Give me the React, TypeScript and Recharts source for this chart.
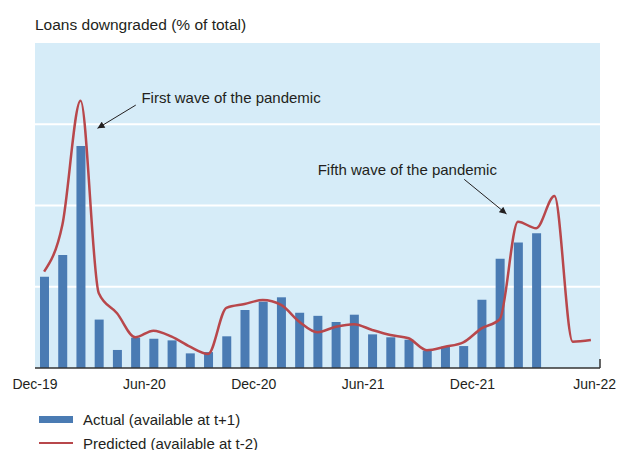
import { ComposedChart, Bar, Line, XAxis, YAxis, CartesianGrid, ReferenceLine, ReferenceDot } from "recharts"

// monthly buckets, Dec-19 .. Jun-22
const months = [
  "Dec-19", "Jan-20", "Feb-20", "Mar-20", "Apr-20", "May-20", "Jun-20", "Jul-20", "Aug-20", "Sep-20", "Oct-20",
  "Nov-20", "Dec-20", "Jan-21", "Feb-21", "Mar-21", "Apr-21", "May-21", "Jun-21", "Jul-21", "Aug-21", "Sep-21",
  "Oct-21", "Nov-21", "Dec-21", "Jan-22", "Feb-22", "Mar-22", "Apr-22", "May-22", "Jun-22",
]

// Actual (available at t+1), % of total
const actual = [
  5.62, 6.95, 13.66, 2.98, 1.11, 1.87, 1.8, 1.7, 0.9, 0.98, 1.95, 3.57, 4.08, 4.35, 3.4, 3.21, 2.83, 3.28, 2.07,
  1.89, 1.74, 1.07, 1.31, 1.35, 4.2, 6.73, 7.73, 8.29,
]

// Predicted (available at t-2), % of total
const predicted = [
  5.93, 8.8, 16.45, 4.6, 3.37, 1.89, 2.3, 1.93, 1.31, 0.86, 3.7, 3.94, 4.18, 3.88, 2.85, 2.2, 2.54, 2.7, 2.34,
  2.03, 1.83, 1.1, 1.31, 1.58, 2.44, 3.0, 9.0, 8.6, 10.58, 1.62, 1.72,
]

const tickValues = [-0.5, 5.5, 11.5, 17.5, 23.5, 30.5]
const tickLabels = ["Dec-19", "Jun-20", "Dec-20", "Jun-21", "Dec-21", "Jun-22"]
const yTicks = [0, 5, 10, 15, 20]
const gridValues = [5, 10, 15]

const FONT = '"Liberation Sans", Arial, Helvetica, sans-serif'
const INK = "#231f20"
const BAR = "#4a7bb3"
const LINE = "#b8474b"
const BG = "#d6ecf8"

const data = months.map((m, i) => ({
  idx: i,
  month: m,
  actual: i < actual.length ? actual[i] : null,
  predicted: predicted[i],
}))

function XTick(props: any) {
  const { x, y, payload } = props
  const pos = tickValues.indexOf(payload.value)
  const last = pos === tickValues.length - 1
  return (
    <text
      x={last ? x + 16 : x}
      y={y + 21}
      textAnchor={last ? "end" : "middle"}
      fontSize={14}
      fontFamily={FONT}
      fill={INK}
    >
      {tickLabels[pos]}
    </text>
  )
}

const noteLabel = (text: string) => ({
  value: text,
  position: "right" as const,
  offset: 0,
  fill: INK,
  fontSize: 15,
  fontFamily: FONT,
})

export default function App() {
  return (
    <div style={{ position: "relative", width: 617, height: 450, fontFamily: FONT, color: INK }}>
      <style>{"body { margin: 0; }"}</style>
      <svg style={{ position: "absolute", width: 0, height: 0 }}>
        <defs>
          <marker
            id="arrowHead"
            viewBox="0 0 10 10"
            refX="10"
            refY="5"
            markerWidth="8"
            markerHeight="7"
            markerUnits="userSpaceOnUse"
            orient="auto"
          >
            <path d="M0,0 L10,5 L0,10 z" fill={INK} />
          </marker>
        </defs>
      </svg>

      <div style={{ position: "absolute", left: 35, top: 15, fontSize: 15.5, lineHeight: "20px", whiteSpace: "nowrap" }}>
        Loans downgraded (% of total)
      </div>

      <ComposedChart width={617} height={450} data={data} margin={{ top: 43, right: 17, bottom: 52, left: 35 }}>
        <CartesianGrid
          vertical={false}
          stroke="#ffffff"
          strokeWidth={2}
          fill={BG}
          fillOpacity={1}
          horizontalValues={gridValues}
        />
        <XAxis
          dataKey="idx"
          type="number"
          domain={[-0.5, 30.5]}
          ticks={tickValues}
          interval={0}
          height={30}
          tickSize={0}
          tickMargin={0}
          tickLine={false}
          axisLine={{ stroke: "#333333", strokeWidth: 1.5 }}
          tick={<XTick />}
        />
        <YAxis
          domain={[0, 20]}
          ticks={yTicks}
          width={0}
          tick={() => <g />}
          tickLine={false}
          axisLine={{ stroke: "#333333", strokeWidth: 1.5 }}
        />
        <Bar dataKey="actual" fill={BAR} barSize={9} isAnimationActive={false} />
        <Line
          dataKey="predicted"
          type="monotone"
          stroke={LINE}
          strokeWidth={2.5}
          dot={false}
          activeDot={false}
          isAnimationActive={false}
        />
        <ReferenceLine segment={[{ x: 30.5, y: 0 }, { x: 30.5, y: 0.55 }]} stroke="#333333" strokeWidth={1.5} />
        <ReferenceLine
          segment={[{ x: 5.03, y: 16.18 }, { x: 2.93, y: 14.75 }]}
          stroke={INK}
          strokeWidth={1}
          markerEnd="url(#arrowHead)"
        />
        <ReferenceLine
          segment={[{ x: 23.05, y: 11.61 }, { x: 25.37, y: 9.48 }]}
          stroke={INK}
          strokeWidth={1}
          markerEnd="url(#arrowHead)"
        />
        <ReferenceDot x={5.34} y={16.62} r={0} stroke="none" fill="none" label={noteLabel("First wave of the pandemic")} />
        <ReferenceDot x={15.01} y={12.18} r={0} stroke="none" fill="none" label={noteLabel("Fifth wave of the pandemic")} />
      </ComposedChart>

      <div style={{ position: "absolute", left: 39, top: 407, fontSize: 15 }}>
        <div style={{ display: "flex", alignItems: "center", height: 24, whiteSpace: "nowrap" }}>
          <span style={{ display: "inline-block", width: 34, height: 7, background: BAR, marginRight: 10 }} />
          Actual (available at t+1)
        </div>
        <div style={{ display: "flex", alignItems: "center", height: 24, whiteSpace: "nowrap" }}>
          <span style={{ display: "inline-block", width: 34, height: 2.5, background: LINE, marginRight: 10 }} />
          Predicted (available at t-2)
        </div>
      </div>
    </div>
  )
}
